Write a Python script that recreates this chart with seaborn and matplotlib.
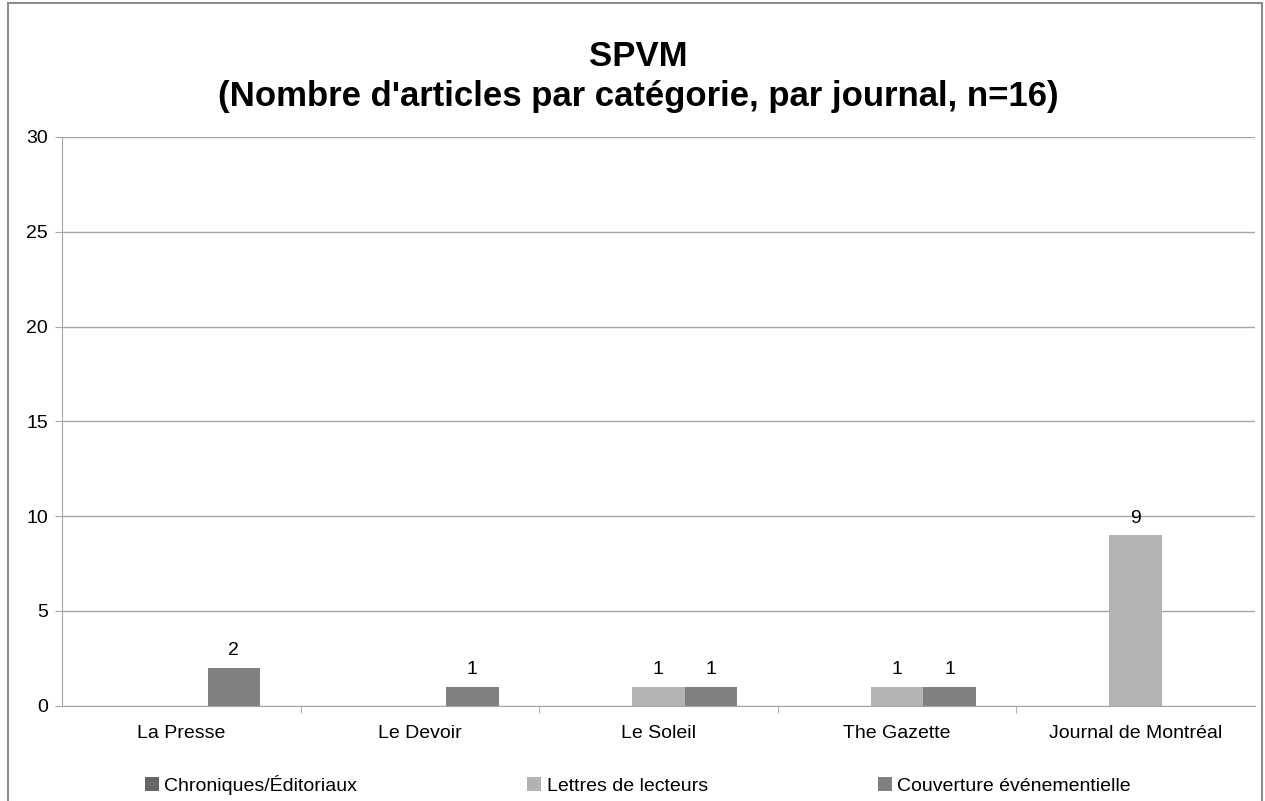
import numpy as np
import pandas as pd
import seaborn as sns
import matplotlib.pyplot as plt
from matplotlib.patches import Rectangle

journals = ['La Presse', 'Le Devoir', 'Le Soleil', 'The Gazette', 'Journal de Montréal']
categories = ['Chroniques/Éditoriaux', 'Lettres de lecteurs', 'Couverture événementielle']
chroniques = [0, 0, 0, 0, 0]
lettres = [0, 0, 1, 1, 9]
couverture = [2, 1, 1, 1, 0]
colors = ['#666666', '#b3b3b3', '#808080']

df = pd.DataFrame({
    'journal': journals * 3,
    'categorie': [categories[0]] * 5 + [categories[1]] * 5 + [categories[2]] * 5,
    'n': chroniques + lettres + couverture,
})

sns.set_style('white')
plt.rcParams['font.family'] = ['Liberation Sans', 'DejaVu Sans']
plt.rcParams['text.color'] = 'black'
plt.rcParams['xtick.labelcolor'] = 'black'
plt.rcParams['ytick.labelcolor'] = 'black'

fig = plt.figure(figsize=(12.65, 8.01), dpi=100)
ax = fig.add_axes([0.049, 0.119, 0.943, 0.71])

sns.barplot(data=df, x='journal', y='n', hue='categorie', palette=colors,
            width=0.66, gap=0, saturation=1, linewidth=0, ax=ax, legend=True)

for cont in ax.containers:
    labels = [f'{int(b.get_height())}' if b.get_height() > 0 else '' for b in cont]
    ax.bar_label(cont, labels=labels, padding=6, fontsize=14, color='black')

ax.set_ylim(0, 30)
ax.set_yticks(range(0, 31, 5))
ax.set_xlim(-0.5, 4.5)
ax.yaxis.grid(True, color='#a6a6a6', linewidth=1)
ax.set_axisbelow(True)
ax.set_xlabel('')
ax.set_ylabel('')
for s in ['top', 'right']:
    ax.spines[s].set_visible(False)
for s in ['left', 'bottom']:
    ax.spines[s].set_color('#a6a6a6')
ax.tick_params(axis='y', length=5, color='#a6a6a6', labelsize=14, left=True, pad=5)
ax.tick_params(axis='x', which='major', length=0, labelsize=14, pad=14)
ax.set_xticks(np.arange(0.5, 4.5, 1), minor=True)
ax.tick_params(axis='x', which='minor', length=5, color='#a6a6a6', bottom=True)

ax.set_title("SPVM\n(Nombre d'articles par catégorie, par journal, n=16)",
             fontsize=25, fontweight='bold', pad=22, linespacing=1.3,
             color='black', x=0.483)

ax.legend(loc='center', bbox_to_anchor=(145 / 1265, 0.02, 986 / 1265, 0),
          bbox_transform=fig.transFigure, mode='expand', ncol=3, frameon=False,
          fontsize=14, handlelength=0.7, handleheight=0.7, handletextpad=0.3,
          borderpad=0, borderaxespad=0)

fig.patches.append(Rectangle((8 / 1265, -0.1), 1254 / 1265, 1.1 - 3 / 801,
                             transform=fig.transFigure, fill=False,
                             edgecolor='#8c8c8c', linewidth=1.5))

fig.savefig('out.png', dpi=100)
